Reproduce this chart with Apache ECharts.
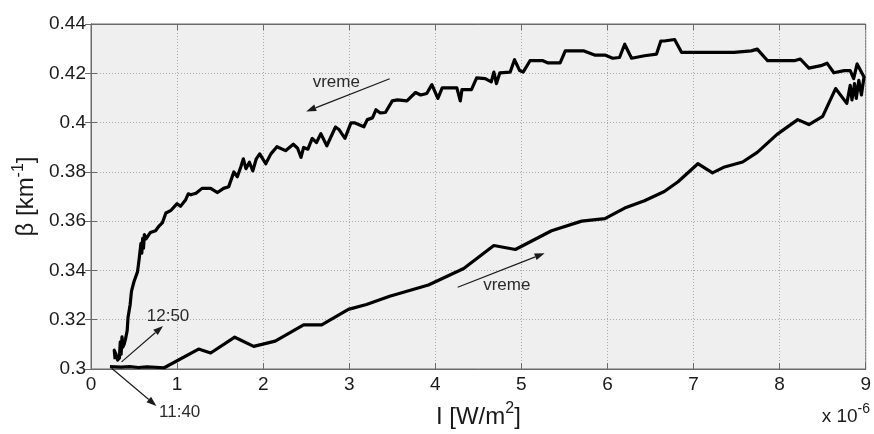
<!DOCTYPE html>
<html>
<head>
<meta charset="utf-8">
<script src="https://cdn.jsdelivr.net/npm/echarts@6/dist/echarts.min.js"></script>
<style>html,body{margin:0;padding:0;background:#fff}#c{width:874px;height:434px}</style>
</head>
<body>
<div id="c"></div>
<script>
// Lower branch (11:40 -> right end), I in units of 1e-6 W/m^2
var lowerI = [0.22,0.35,0.45,0.55,0.65,0.85,1.25,1.39,1.67,1.89,2.14,2.47,2.68,2.99,3.20,3.47,3.92,4.33,4.68,4.93,5.35,5.70,5.97,6.20,6.43,6.66,6.82,7.05,7.22,7.36,7.57,7.74,7.97,8.21,8.34,8.50,8.65,8.78,8.82,8.84,8.87,8.89,8.92,8.95,8.98,9.00];
var lowerBeta = [0.3010,0.3008,0.3010,0.3006,0.3009,0.3005,0.3081,0.3065,0.3129,0.3092,0.3113,0.3179,0.3179,0.3242,0.3262,0.3295,0.3341,0.3408,0.3501,0.3485,0.3561,0.3600,0.3610,0.3653,0.3683,0.3720,0.3760,0.3833,0.3796,0.3820,0.3840,0.3879,0.3952,0.4012,0.3992,0.4025,0.4138,0.4078,0.4151,0.4092,0.4158,0.4098,0.4171,0.4112,0.4185,0.4180];
// Upper branch (right end -> 12:50)
var upperI = [8.90,8.86,8.82,8.75,8.63,8.55,8.48,8.34,8.24,8.17,7.86,7.74,7.67,7.47,6.86,6.78,6.66,6.62,6.57,6.43,6.28,6.20,6.14,6.06,5.97,5.85,5.72,5.51,5.45,5.31,5.25,5.10,5.02,4.98,4.92,4.87,4.75,4.71,4.68,4.65,4.58,4.48,4.42,4.31,4.29,4.25,4.08,4.03,3.96,3.90,3.83,3.77,3.67,3.56,3.50,3.42,3.36,3.31,3.27,3.21,3.17,3.06,3.02,2.95,2.88,2.84,2.74,2.67,2.62,2.57,2.52,2.47,2.44,2.40,2.35,2.26,2.16,2.09,2.03,1.96,1.92,1.88,1.84,1.80,1.77,1.74,1.70,1.66,1.60,1.54,1.47,1.39,1.29,1.22,1.16,1.13,1.10,1.04,1.00,0.93,0.87,0.83,0.79,0.75,0.69,0.64,0.62,0.61,0.60,0.59,0.58,0.56,0.54,0.50,0.47,0.455,0.43,0.42,0.40,0.385,0.37,0.36,0.35,0.34,0.33,0.31,0.29,0.27,0.28];
var upperBeta = [0.4238,0.4178,0.4211,0.4211,0.4202,0.4241,0.4231,0.4221,0.4258,0.4251,0.4251,0.4298,0.4291,0.4285,0.4285,0.4337,0.4331,0.4331,0.4278,0.4271,0.4261,0.4318,0.4264,0.4261,0.4274,0.4274,0.4291,0.4291,0.4242,0.4242,0.4251,0.4251,0.4205,0.4211,0.4255,0.4205,0.4202,0.4158,0.4205,0.4165,0.4178,0.4181,0.4134,0.4134,0.4088,0.4141,0.4141,0.4098,0.4154,0.4118,0.4112,0.4122,0.4088,0.4092,0.4088,0.4041,0.4039,0.4052,0.4019,0.4012,0.3983,0.3999,0.3999,0.3936,0.3972,0.3982,0.3906,0.3955,0.3919,0.3936,0.3892,0.3899,0.3859,0.3896,0.3912,0.3886,0.3902,0.3873,0.3833,0.3873,0.3853,0.3804,0.3839,0.3813,0.3853,0.3820,0.3780,0.3800,0.3740,0.3733,0.3716,0.3733,0.3733,0.3713,0.3707,0.3711,0.3687,0.3660,0.3671,0.3644,0.3633,0.3594,0.3580,0.3561,0.3554,0.3528,0.3545,0.3490,0.3530,0.3470,0.3510,0.3448,0.3394,0.3355,0.3315,0.3262,0.3209,0.3155,0.3120,0.3100,0.3089,0.3130,0.3060,0.3110,0.3045,0.3036,0.3060,0.3076,0.3040];
var xTicks = [0,1,2,3,4,5,6,7,8,9];
var yTicks = [0.30,0.32,0.34,0.36,0.38,0.40,0.42,0.44];
// Annotations: label, arrow start, arrow end, label position (data coords)
var annLabels = ['11:40','12:50','vreme','vreme'];
var annFrom = [[0.24,0.3003],[0.355,0.3029],[3.47,0.4178],[4.26,0.3332]];
var annTo = [[0.76,0.2850],[0.837,0.3175],[2.50,0.4045],[5.27,0.3470]];
var annText = [[1.03,0.2823],[0.895,0.3215],[2.85,0.4165],[4.83,0.3341]];

var pts = [];
for (var i = 0; i < lowerI.length; i++) pts.push([lowerI[i], lowerBeta[i]]);
for (var j = 0; j < upperI.length; j++) pts.push([upperI[j], upperBeta[j]]);

var FONT = 'Liberation Sans, Arial, Helvetica, sans-serif';
var chart = echarts.init(document.getElementById('c'), null, {renderer: 'canvas'});
var axisCommon = {
  type: 'value',
  axisLine: {show: true, lineStyle: {color: '#6a6a6a', width: 1}},
  axisTick: {show: true, inside: true, length: 6, lineStyle: {color: '#6a6a6a'}},
};
var nameRich = {
  n: {fontSize: 24, color: '#1a1a1a', fontFamily: FONT, verticalAlign: 'bottom', lineHeight: 28},
  s: {fontSize: 16, color: '#1a1a1a', fontFamily: FONT, verticalAlign: 'top', lineHeight: 28}
};
chart.setOption({
  animation: false,
  textStyle: {fontFamily: FONT},
  grid: {left: 91, right: 5, top: 24, bottom: 58, show: true, backgroundColor: '#efefef', borderColor: '#6a6a6a', borderWidth: 1},
  xAxis: [
    Object.assign({}, axisCommon, {
      min: xTicks[0], max: xTicks[xTicks.length-1], interval: 1, position: 'bottom',
      axisLabel: {fontSize: 19, color: '#1a1a1a', margin: 6, fontFamily: FONT, formatter: function(v){return String(v);}},
      splitLine: {show: true, lineStyle: {color: '#aaaaaa', type: [1, 2], width: 1}},
      name: '{n|I [W/m}{s|2}{n|]}', nameLocation: 'middle', nameGap: 32,
      nameTextStyle: {rich: nameRich}
    }),
    Object.assign({}, axisCommon, {min: 0, max: 9, interval: 1, position: 'top', axisLabel: {show: false}, splitLine: {show: false}})
  ],
  yAxis: [
    Object.assign({}, axisCommon, {
      min: yTicks[0], max: yTicks[yTicks.length-1], interval: 0.02, position: 'left',
      axisLabel: {fontSize: 19, color: '#1a1a1a', margin: 5, fontFamily: FONT, formatter: function(v){return String(+v.toFixed(2));}},
      splitLine: {show: true, lineStyle: {color: '#aaaaaa', type: [1, 2], width: 1}},
      name: '{n|\u03b2 [km}{s|-1}{n|]}', nameLocation: 'middle', nameGap: 48, nameRotate: 90,
      nameTextStyle: {rich: nameRich}
    }),
    Object.assign({}, axisCommon, {min: 0.3, max: 0.44, interval: 0.02, position: 'right', axisLabel: {show: false}, splitLine: {show: false}})
  ],
  series: [{
    type: 'line', data: pts, showSymbol: false, symbol: 'none',
    lineStyle: {color: '#000', width: 3.2, join: 'round'}, clip: false, z: 5
  }]
});

function drawAnnotations() {
  var g = [];
  for (var k = 0; k < annLabels.length; k++) {
    var a = chart.convertToPixel({gridIndex: 0}, annFrom[k]);
    var b = chart.convertToPixel({gridIndex: 0}, annTo[k]);
    var t = chart.convertToPixel({gridIndex: 0}, annText[k]);
    var ang = Math.atan2(b[1]-a[1], b[0]-a[0]);
    var L = 10, W = 3.5;
    var bx = b[0] - L*Math.cos(ang), by = b[1] - L*Math.sin(ang);
    g.push({type: 'line', shape: {x1: a[0], y1: a[1], x2: bx, y2: by}, style: {stroke: '#1a1a1a', lineWidth: 1.2}, z: 10});
    g.push({type: 'polygon', shape: {points: [[b[0], b[1]], [bx + W*Math.sin(ang), by - W*Math.cos(ang)], [bx - W*Math.sin(ang), by + W*Math.cos(ang)]]}, style: {fill: '#1a1a1a'}, z: 10});
    g.push({type: 'text', x: t[0], y: t[1], style: {text: annLabels[k], fontSize: 17, fontFamily: FONT, fill: '#2a2a2a', align: 'center', verticalAlign: 'middle'}, z: 10});
  }
  g.push({type: 'text', right: 4, top: 402, style: {text: '{n|x 10}{s|-6}', rich: {n: {fontSize: 19, fontFamily: FONT, fill: '#1a1a1a', verticalAlign: 'bottom', lineHeight: 24}, s: {fontSize: 14, fontFamily: FONT, fill: '#1a1a1a', verticalAlign: 'top', lineHeight: 24}}}, z: 10});
  chart.setOption({graphic: g});
}
drawAnnotations();
</script>
</body>
</html>
